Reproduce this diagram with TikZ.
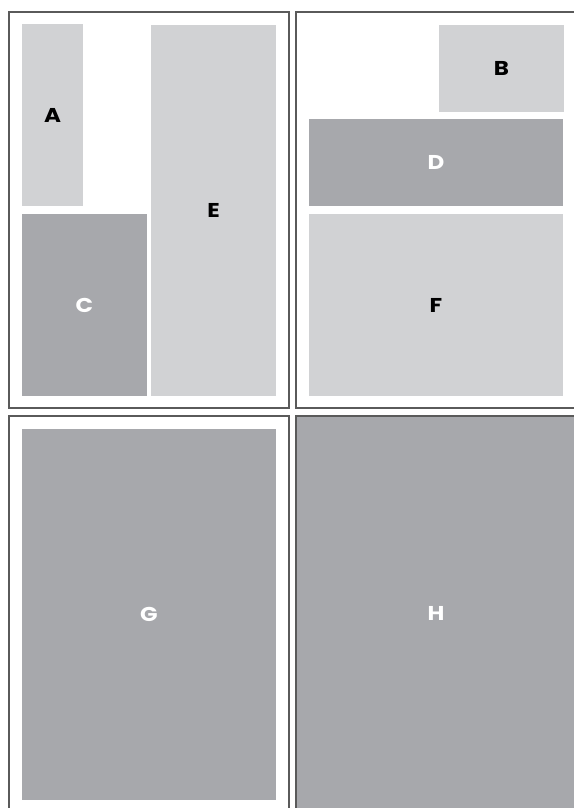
\documentclass[tikz,border=0pt]{standalone}
\usepackage{fontspec}
\newfontfamily\labfont{Poppins}[FakeStretch=1.15]
\definecolor{lightfill}{HTML}{D1D2D4}
\definecolor{darkfill}{HTML}{A7A8AC}
\definecolor{framecol}{HTML}{5A5A5A}
\begin{document}
\begin{tikzpicture}[x=1pt,y=-1pt,
  panel/.style={draw=framecol,line width=1.4pt},
  box/.style={rectangle,inner sep=0pt,outer sep=0pt,font=\labfont\bfseries\fontsize{20}{20}\selectfont},
  lightbox/.style={box,fill=lightfill,text=black},
  darkbox/.style={box,fill=darkfill,text=white}]
\useasboundingbox (0,0) rectangle (573,808);
% panel frames
\draw[panel] (9,12) rectangle (289,408);
\draw[panel] (580,12) -- (296,12) -- (296,408) -- (580,408);
\draw[panel] (9,820) -- (9,416) -- (289,416) -- (289,820);
% H panel fill
\fill[darkfill] (296,416) rectangle (580,820);
\draw[panel] (296,820) -- (296,416) -- (580,416);
% boxes
\node[lightbox,minimum width=61,minimum height=182] (A) at (52.5,115) {A};
\node[lightbox,minimum width=125,minimum height=371] (E) at (213.5,210.5) {E};
\node[darkbox,minimum width=125,minimum height=182] (C) at (84.5,305) {C};
\node[lightbox,minimum width=125,minimum height=87] (B) at (501.5,68.5) {B};
\node[darkbox,minimum width=254,minimum height=87] (D) at (436,162.5) {D};
\node[lightbox,minimum width=254,minimum height=182] (F) at (436,305) {F};
\node[darkbox,minimum width=254,minimum height=371] (G) at (149,614.5) {G};
\node[box,text=white] (H) at (436,613) {H};
\end{tikzpicture}
\end{document}
